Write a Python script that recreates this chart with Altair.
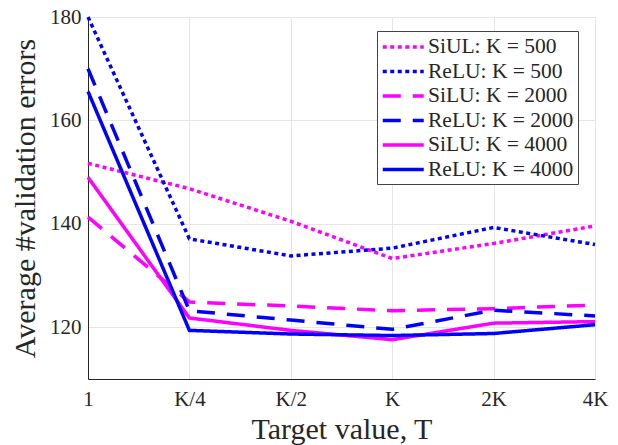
import altair as alt
import pandas as pd

targets = ["1", "K/4", "K/2", "K", "2K", "4K"]
series = ["SiUL: K = 500", "ReLU: K = 500", "SiLU: K = 2000",
          "ReLU: K = 2000", "SiLU: K = 4000", "ReLU: K = 4000"]
silu_500 = [151.7, 146.8, 140.5, 133.3, 136.2, 139.6]
relu_500 = [180.0, 137.1, 133.8, 135.3, 139.3, 136.0]
silu_2000 = [141.3, 124.9, 124.1, 123.2, 123.6, 124.3]
relu_2000 = [170.0, 123.2, 121.4, 119.6, 123.3, 122.2]
silu_4000 = [149.0, 121.8, 119.4, 117.6, 120.8, 121.1]
relu_4000 = [165.6, 119.4, 118.7, 118.4, 118.8, 120.5]

colors = ["#ff00ff", "#0000ff", "#ff00ff", "#0000ff", "#ff00ff", "#0000ff"]
dashes = [[4, 3.5], [4, 3.5], [18, 12], [18, 12], [1, 0], [1, 0]]

values = [silu_500, relu_500, silu_2000, relu_2000, silu_4000, relu_4000]
rows = []
for s, vals in zip(series, values):
    for t, v in zip(targets, vals):
        rows.append({"T": t, "series": s, "err": v})
df = pd.DataFrame(rows)

FONT = "Liberation Serif"
TXT = "#262626"


def make_legend():
    return alt.Legend(title=None, orient="none", legendX=289, legendY=14,
                      symbolType="M-1,0H3", symbolSize=420,
                      symbolStrokeWidth=3.5, symbolFillColor="transparent",
                      labelFontSize=21.5,
                      labelFont=FONT, labelColor=TXT,
                      strokeColor="#444444", fillColor="white",
                      padding=4, rowPadding=1.5, labelOffset=23)


chart = alt.Chart(df).mark_line(strokeWidth=3.5, strokeCap="butt").encode(
    x=alt.X("T:O", sort=targets, scale=alt.Scale(type="point", padding=0),
            axis=alt.Axis(title="Target value, T", labelAngle=0, grid=True,
                          ticks=False, labelPadding=9, titlePadding=5)),
    y=alt.Y("err:Q", scale=alt.Scale(domain=[110, 180], nice=False, zero=False),
            axis=alt.Axis(title="Average #validation errors", values=[120, 140, 160, 180],
                          ticks=False, labelPadding=7, titlePadding=9)),
    color=alt.Color("series:N", sort=series,
                    scale=alt.Scale(domain=series, range=colors),
                    legend=make_legend()),
    strokeDash=alt.StrokeDash("series:N", sort=series,
                              scale=alt.Scale(domain=series, range=dashes),
                              legend=make_legend()),
    detail="series:N",
).properties(
    width=507, height=362,
    autosize=alt.AutoSizeParams(type="none"),
    padding={"left": 88, "top": 17, "right": 23, "bottom": 66},
).configure_view(
    stroke="#e6e6e6"
).configure_axis(
    labelFont=FONT, titleFont=FONT, labelFontSize=21, titleFontSize=30,
    labelColor=TXT, titleColor=TXT, titleFontWeight="normal",
    domainColor="#262626", domainWidth=1, gridColor="#e6e6e6", gridWidth=1
)

chart.save("out.html", embed_options={"renderer": "svg", "actions": False})
